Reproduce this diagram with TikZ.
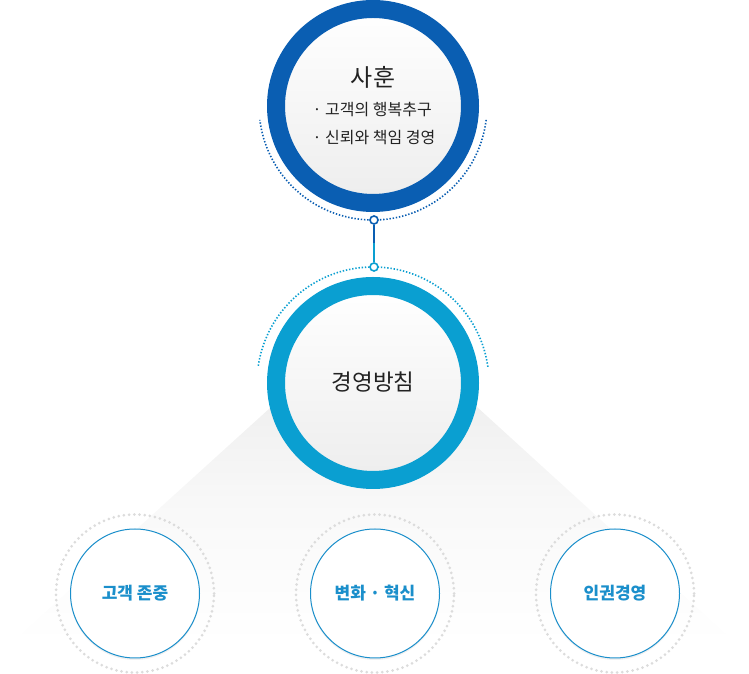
\documentclass[tikz,border=0pt]{standalone}
\usepackage{fontspec}
\setmainfont{Noto Sans CJK KR}
\usetikzlibrary{shadows,shadings}
\definecolor{darkblue}{HTML}{0A5EB2}
\definecolor{lightblue}{HTML}{0A9FD1}
\definecolor{labelblue}{HTML}{1B8FCB}
\definecolor{txt}{HTML}{222222}
\definecolor{dotgray}{HTML}{DCDCDC}
\tikzset{
  bigring/.style={circle, inner sep=0pt, minimum size=194pt, line width=18pt,
    shading=axis, top color=white, bottom color=black!7,
    drop shadow={shadow xshift=0pt, shadow yshift=-2pt, opacity=0.15}},
  dotarc/.style={line width=1.6pt, dash pattern=on 1.4pt off 1.8pt},
  smallc/.style={circle, inner sep=0pt, minimum size=8pt, line width=1.6pt, fill=white},
  outerdot/.style={circle, inner sep=0pt, minimum size=158pt, draw=dotgray, line width=3pt,
    dash pattern=on 0pt off 5.2pt, line cap=round},
  innerc/.style={circle, inner sep=0pt, minimum size=129pt, draw=labelblue, line width=1pt, fill=white,
    drop shadow={shadow xshift=0pt, shadow yshift=-2pt, opacity=0.12}},
  lbl/.style={font=\fontsize{17}{20}\selectfont\bfseries, text=labelblue},
}
\begin{document}
\begin{tikzpicture}[x=1pt,y=1pt]
\useasboundingbox (0,0) rectangle (749,674);
% shadow fan
\shade[top color=black!7, bottom color=white, middle color=black!2.5] (285,300) -- (460,300) -- (477,267) -- (737,30) -- (10,30) -- (270,266) -- cycle;
% bottom circles
\foreach \n/\x/\t in {b1/135/고객 존중, b2/375/변화 · 혁신, b3/615/인권경영}{
  \node[outerdot] (\n o) at (\x,80.5) {};
  \node[innerc] (\n) at (\x,80.5) {};
  \node[lbl] at (\n) {\t};
}
% top circle
\node[bigring, draw=darkblue] (top) at (373,568) {};
\draw[dotarc, darkblue] ([shift={(-7:114)}]top.center) arc[start angle=-7, end angle=-173, radius=114];
\node[text=txt, font=\fontsize{24}{28}\selectfont] (title) at (373,597) {사훈};
\node[text=txt, font=\fontsize{16}{28}\selectfont, align=left] (bul) at (374,550) {· 고객의 행복추구\\· 신뢰와 책임 경영};
% middle circle
\node[bigring, draw=lightblue] (mid) at (373,291) {};
\draw[dotarc, lightblue] ([shift={(8:116)}]mid.center) arc[start angle=8, end angle=172, radius=116];
\node[text=txt, font=\fontsize{22.5}{26}\selectfont] (midt) at (373,292) {경영방침};
% connector
\coordinate (cm) at (374,430.5);
\node[smallc, draw=darkblue] (c1) at (374,454) {};
\node[smallc, draw=lightblue] (c2) at (374,407) {};
\draw[darkblue, line width=1.6pt] (c1.south) -- (cm);
\draw[lightblue, line width=1.6pt] (cm) -- (c2.north);
\end{tikzpicture}
\end{document}
